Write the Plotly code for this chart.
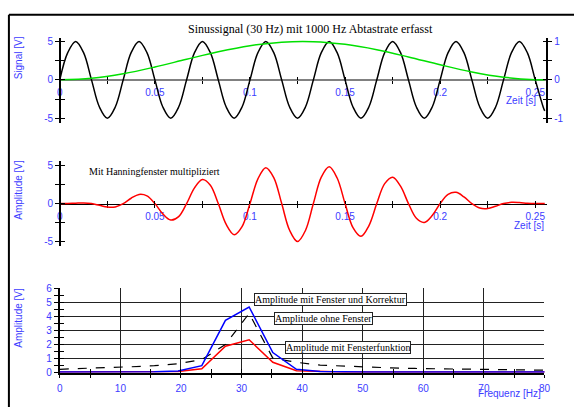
import plotly.graph_objects as go

# ---------------- data ----------------
# time samples (s) of the captured 30 Hz signal
t_sig = [0, 0.00417, 0.00833, 0.0125, 0.01667, 0.02083, 0.025, 0.02917, 0.03333, 0.0375,
         0.04167, 0.04583, 0.05, 0.05417, 0.05833, 0.0625, 0.06667, 0.07083, 0.075, 0.07917,
         0.08333, 0.0875, 0.09167, 0.09583, 0.1, 0.10417, 0.10833, 0.1125, 0.11667, 0.12083,
         0.125, 0.12917, 0.13333, 0.1375, 0.14167, 0.14583, 0.15, 0.15417, 0.15833, 0.1625,
         0.16667, 0.17083, 0.175, 0.17917, 0.18333, 0.1875, 0.19167, 0.19583, 0.2, 0.20417,
         0.20833, 0.2125, 0.21667, 0.22083, 0.225, 0.22917, 0.23333, 0.2375, 0.24167, 0.24583,
         0.25, 0.25417, 0.255]
signal = [0, 3.54, 5, 3.54, 0, -3.54, -5, -3.54, 0, 3.54,
          5, 3.54, 0, -3.54, -5, -3.54, 0, 3.54, 5, 3.54,
          0, -3.54, -5, -3.54, 0, 3.54, 5, 3.54, 0, -3.54,
          -5, -3.54, 0, 3.54, 5, 3.54, 0, -3.54, -5, -3.54,
          0, 3.54, 5, 3.54, 0, -3.54, -5, -3.54, 0, 3.54,
          5, 3.54, 0, -3.54, -5, -3.54, 0, 3.54, 5, 3.54,
          0, -3.54, -4.05]
windowed = [0, 0.009, 0.053, 0.083, 0, -0.228, -0.46, -0.438, 0, 0.703,
            1.206, 1.013, 0, -1.357, -2.168, -1.716, 0, 2.077, 3.18, 2.425,
            0, -2.747, -4.088, -3.028, 0, 3.256, 4.727, 3.421, 0, -3.516,
            -4.996, -3.539, 0, 3.487, 4.849, 3.363, 0, -3.171, -4.313, -2.922,
            0, 2.623, 3.474, 2.29, 0, -1.935, -2.476, -1.571, 0, 1.216,
            1.478, 0.885, 0, -0.591, -0.653, -0.347, 0, 0.162, 0.134, 0.045,
            0, 0, 0]
# Hanning window (right axis)
t_win = [0, 0.01667, 0.03333, 0.05, 0.06667, 0.08333, 0.1, 0.11667, 0.13333, 0.15,
         0.16667, 0.18333, 0.2, 0.21667, 0.23333, 0.25, 0.255]
hanning = [0, 0.042, 0.159, 0.334, 0.536, 0.732, 0.89, 0.982, 0.995, 0.925,
           0.785, 0.597, 0.393, 0.207, 0.07, 0.004, 0]

# spectrum
freq = [0, 3.91, 7.81, 11.72, 15.63, 19.53, 23.44, 27.34, 31.25, 35.16, 39.06,
        42.97, 46.88, 50.78, 54.69, 58.59, 62.5, 66.41, 70.31, 74.22, 78.13, 82.03]
amp_no_window = [0.2, 0.28, 0.33, 0.38, 0.46, 0.6, 0.9, 1.97, 4.2, 1.0, 0.7,
                 0.5, 0.42, 0.36, 0.3, 0.26, 0.23, 0.2, 0.17, 0.15, 0.13, 0.12]
amp_window = [0, 0, 0, 0, 0.01, 0.04, 0.23, 1.85, 2.31, 0.7, 0.09,
              0.02, 0, 0, 0, 0, 0, 0, 0, 0, 0, 0]
amp_corrected = [0, 0, 0, 0, 0.02, 0.08, 0.46, 3.7, 4.66, 1.4, 0.2,
                 0.04, 0, 0, 0, 0, 0, 0, 0, 0, 0, 0]

title_text = "Sinussignal (30 Hz) mit 1000 Hz Abtastrate erfasst"
mid_text = "Mit Hanningfenster multipliziert"
box_labels = ["Amplitude mit Fenster und Korrektur", "Amplitude ohne Fenster",
              "Amplitude mit Fensterfunktion"]
box_x = [32.1, 35.4, 37.2]
box_y = [5.17, 3.83, 1.74]

# ---------------- layout helpers ----------------
W, H = 580, 412
def px(p):
    return p / W
def py(p):
    return 1 - p / H

BLUE = '#3c3cff'
tickfont = dict(family='Liberation Sans, Arial, sans-serif', size=10, color=BLUE)
serif = 'Liberation Serif, Times New Roman, serif'

x_left = 57.7
top_dom_y = [py(120), py(33.3)]
top_range = [-5.6, 5.4]
mid_dom_y = [py(246.7), py(159.3)]
mid_range = [-5.6, 5.6]
bot_dom_y = [py(376.7), py(290)]
bot_range = [-0.04, 6]
time_dom = [px(x_left), px(553)]
time_range = [0, 0.2564]

def zero_pos(dom, rng):
    return dom[0] + (0 - rng[0]) / (rng[1] - rng[0]) * (dom[1] - dom[0])

fig = go.Figure()
# top panel
fig.add_trace(go.Scatter(x=t_win, y=hanning, xaxis='x', yaxis='y2', mode='lines',
                         line=dict(color='#00e000', width=1.5, shape='spline'),
                         showlegend=False, hoverinfo='skip'))
fig.add_trace(go.Scatter(x=t_sig, y=signal, xaxis='x', yaxis='y', mode='lines',
                         line=dict(color='black', width=1.5, shape='spline'),
                         showlegend=False, hoverinfo='skip'))
# middle panel
fig.add_trace(go.Scatter(x=t_sig, y=windowed, xaxis='x2', yaxis='y3', mode='lines',
                         line=dict(color='#ff0000', width=1.5, shape='spline'),
                         showlegend=False, hoverinfo='skip'))
# bottom panel
fig.add_trace(go.Scatter(x=freq, y=amp_no_window, xaxis='x3', yaxis='y4', mode='lines',
                         line=dict(color='black', width=1.2, dash='dash'),
                         showlegend=False, hoverinfo='skip'))
fig.add_trace(go.Scatter(x=freq, y=amp_window, xaxis='x3', yaxis='y4', mode='lines',
                         line=dict(color='#ff0000', width=1.5),
                         showlegend=False, hoverinfo='skip'))
fig.add_trace(go.Scatter(x=freq, y=amp_corrected, xaxis='x3', yaxis='y4', mode='lines',
                         line=dict(color='#0000ff', width=1.5),
                         showlegend=False, hoverinfo='skip'))
# dummy traces for overlay tick axes
for xa, ya in [('x4', 'y'), ('x', 'y5'), ('x', 'y8'), ('x5', 'y3'), ('x2', 'y6'),
               ('x6', 'y4'), ('x3', 'y7')]:
    fig.add_trace(go.Scatter(x=[None], y=[None], xaxis=xa, yaxis=ya, mode='lines',
                             showlegend=False, hoverinfo='skip'))

common = dict(showgrid=False, zeroline=False, fixedrange=True)

def time_axis(dom_y, rng_y, linecolor, linewidth):
    return dict(domain=time_dom, range=time_range, anchor='free',
                position=zero_pos(dom_y, rng_y), showline=True, linecolor=linecolor,
                linewidth=linewidth, ticks='outside', ticklen=3, tickcolor='black',
                tickwidth=1, tick0=0, dtick=0.05, tickfont=tickfont, layer='below traces',
                minor=dict(dtick=0.025, ticks='outside', ticklen=3, tickcolor='black'),
                **common)

def time_axis_in(over, dom_y, rng_y):
    return dict(domain=time_dom, range=time_range, anchor='free', overlaying=over,
                position=zero_pos(dom_y, rng_y), showline=False, ticks='inside',
                ticklen=3, tickcolor='black', tick0=0, dtick=0.025,
                showticklabels=False, **common)

sig_vals = [-5, -2.5, 0, 2.5, 5]
sig_text = ['-5', '', '0', '', '5']

def val_axis(dom, rng, side='left', pos=px(x_left), vals=sig_vals, text=sig_text, over=None):
    d = dict(domain=dom, range=rng, anchor='free', position=pos, side=side,
             showline=True, linecolor='black', linewidth=1.5, ticks='outside', ticklen=4,
             tickcolor='black', tickvals=vals, ticktext=text, tickfont=tickfont, **common)
    if over:
        d['overlaying'] = over
    return d

def val_axis_in(over, dom, rng, side='left', pos=px(x_left), vals=sig_vals):
    return dict(domain=dom, range=rng, anchor='free', position=pos, side=side,
                overlaying=over, showline=False, ticks='inside', ticklen=4,
                tickcolor='black', tickvals=vals, showticklabels=False, **common)

bot_dom_x = [px(x_left), px(550)]

fig.update_layout(
    width=W, height=H, margin=dict(l=0, r=0, t=0, b=0),
    paper_bgcolor='white', plot_bgcolor='rgba(0,0,0,0)',
    xaxis=time_axis(top_dom_y, top_range, '#808080', 2),
    xaxis4=time_axis_in('x', top_dom_y, top_range),
    yaxis=val_axis(top_dom_y, top_range),
    yaxis5=val_axis_in('y', top_dom_y, top_range),
    yaxis2=val_axis(top_dom_y, [r / 5 for r in top_range], side='right', pos=px(553),
                    vals=[-1, -0.5, 0, 0.5, 1], text=['-1', '', '0', '', '1'], over='y'),
    yaxis8=val_axis_in('y', top_dom_y, [r / 5 for r in top_range], side='right',
                       pos=px(553), vals=[-1, -0.5, 0, 0.5, 1]),
    xaxis2=time_axis(mid_dom_y, mid_range, 'black', 1.2),
    xaxis5=time_axis_in('x2', mid_dom_y, mid_range),
    yaxis3=val_axis(mid_dom_y, mid_range),
    yaxis6=val_axis_in('y3', mid_dom_y, mid_range),
    xaxis3=dict(domain=bot_dom_x, range=[0, 80], anchor='y4', showline=True,
                linecolor='black', linewidth=2, ticks='outside', ticklen=3,
                tickcolor='black', tick0=0, dtick=10, tickfont=tickfont,
                ticklabelstandoff=2,
                showgrid=True, gridcolor='#222222', gridwidth=1, zeroline=False,
                layer='below traces', fixedrange=True,
                minor=dict(dtick=5, ticks='outside', ticklen=3, tickcolor='black',
                           showgrid=False)),
    xaxis6=dict(domain=bot_dom_x, range=[0, 80], anchor='y4', overlaying='x3',
                ticks='inside', ticklen=4, tickcolor='black', tick0=0, dtick=5,
                showticklabels=False, showline=False, **common),
    yaxis4=dict(domain=bot_dom_y, range=bot_range, anchor='x3', showline=True,
                linecolor='black', linewidth=2, ticks='outside', ticklen=4,
                tickcolor='black', tick0=0, dtick=1, tickfont=tickfont,
                showgrid=True, gridcolor='#222222', gridwidth=1, zeroline=False,
                layer='below traces', fixedrange=True,
                minor=dict(dtick=0.5, ticks='outside', ticklen=4, tickcolor='black',
                           showgrid=False)),
    yaxis7=dict(domain=bot_dom_y, range=bot_range, anchor='x3', overlaying='y4',
                ticks='inside', ticklen=4, tickcolor='black', tick0=0, dtick=0.5,
                showticklabels=False, showline=False, **common),
)

ann = []
mc = dict(xanchor='center', yanchor='middle', showarrow=False)
ann.append(dict(text=title_text, xref='paper', yref='paper', x=px(312), y=py(24),
                font=dict(family=serif, size=12, color='black'), **mc))
ann.append(dict(text=mid_text, xref='paper', yref='paper', x=px(154), y=py(170),
                font=dict(family=serif, size=10, color='black'), **mc))
axfont = dict(family='Liberation Sans, Arial, sans-serif', size=10, color=BLUE)
for txt, yc in [("Signal [V]", 53), ("Amplitude [V]", 189), ("Amplitude [V]", 320.5)]:
    ann.append(dict(text=txt, xref='paper', yref='paper', x=px(16), y=py(yc),
                    textangle=-90, font=axfont, **mc))
rm = dict(xanchor='right', yanchor='middle', showarrow=False)
ann.append(dict(text="Zeit [s]", xref='paper', yref='paper', x=px(543), y=py(97.5),
                font=axfont, **rm))
ann.append(dict(text="Zeit [s]", xref='paper', yref='paper', x=px(552), y=py(225.5),
                font=axfont, **rm))
ann.append(dict(text="Frequenz [Hz]", xref='paper', yref='paper', x=px(549), y=py(398),
                font=axfont, **rm))
for lab, bx, by in zip(box_labels, box_x, box_y):
    ann.append(dict(text=lab, xref='x3', yref='y4', x=bx, y=by, xanchor='left',
                    yanchor='middle', showarrow=False,
                    font=dict(family=serif, size=10, color='black'),
                    bgcolor='white', bordercolor='#222222', borderwidth=1, borderpad=0))
fig.update_layout(annotations=ann)

fig.update_layout(shapes=[
    dict(type='line', xref='paper', yref='paper', x0=px(6), x1=1, y0=py(9), y1=py(9),
         line=dict(color='black', width=2)),
    dict(type='line', xref='paper', yref='paper', x0=px(6), x1=px(6), y0=py(9), y1=0,
         line=dict(color='black', width=2)),
])

fig.write_html("out.html")
